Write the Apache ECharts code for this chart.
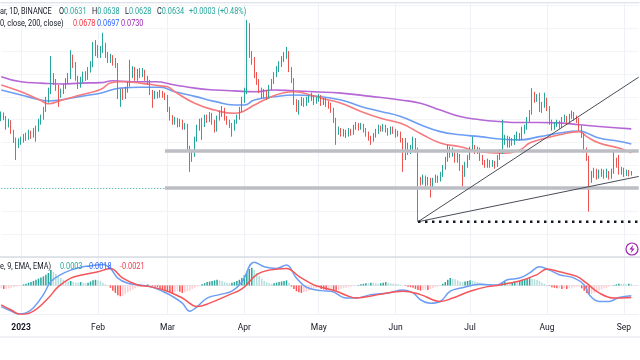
<!DOCTYPE html>
<html><head><meta charset="utf-8">
<script src="https://cdn.jsdelivr.net/npm/echarts@6/dist/echarts.min.js"></script>
<style>html,body{margin:0;padding:0;background:#fff}#c{width:640px;height:360px}</style>
</head><body><div id="c"></div>
<script>
// ---------- DATA ----------
const startYear = 2022, startMonth = 11, startDay = 24; // first category: 2022-12-24
const numSlots = 258;
const firstOpen = 0.0752;
const closes = [
0.0761,0.0754,0.0739,0.0745,0.0724,0.0706,0.0693,0.0702,0.0706,0.0713,
0.0710,0.0721,0.0715,0.0726,0.0728,0.0745,0.0754,0.0772,0.0793,0.0811,
0.0841,0.0833,0.0820,0.0804,0.0811,0.0822,0.0833,0.0844,0.0885,0.0870,
0.0841,0.0826,0.0837,0.0848,0.0841,0.0859,0.0870,0.0898,0.0907,0.0892,
0.0902,0.0913,0.0892,0.0881,0.0885,0.0876,0.0870,0.0804,0.0811,0.0800,
0.0815,0.0826,0.0848,0.0859,0.0841,0.0854,0.0848,0.0854,0.0841,0.0833,
0.0811,0.0800,0.0806,0.0802,0.0809,0.0804,0.0800,0.0772,0.0754,0.0745,
0.0750,0.0739,0.0745,0.0734,0.0737,0.0689,0.0667,0.0673,0.0706,0.0732,
0.0745,0.0739,0.0754,0.0750,0.0761,0.0745,0.0728,0.0754,0.0763,0.0772,
0.0754,0.0745,0.0739,0.0732,0.0745,0.0754,0.0772,0.0793,0.0811,0.0907,
0.0892,0.0881,0.0848,0.0833,0.0815,0.0804,0.0809,0.0800,0.0820,0.0833,
0.0848,0.0859,0.0870,0.0881,0.0889,0.0896,0.0859,0.0837,0.0789,0.0782,
0.0787,0.0793,0.0785,0.0793,0.0798,0.0800,0.0789,0.0793,0.0800,0.0787,
0.0793,0.0785,0.0780,0.0772,0.0750,0.0724,0.0728,0.0719,0.0724,0.0717,
0.0726,0.0721,0.0732,0.0739,0.0732,0.0737,0.0728,0.0719,0.0710,0.0706,
0.0715,0.0724,0.0732,0.0728,0.0734,0.0728,0.0721,0.0730,0.0726,0.0717,
0.0721,0.0706,0.0667,0.0695,0.0680,0.0689,0.0706,0.0684,0.0619,0.0614,
0.0623,0.0612,0.0619,0.0606,0.0617,0.0623,0.0619,0.0630,0.0645,0.0662,
0.0684,0.0673,0.0680,0.0662,0.0671,0.0645,0.0630,0.0651,0.0667,0.0684,
0.0689,0.0680,0.0684,0.0667,0.0658,0.0651,0.0658,0.0651,0.0656,0.0651,
0.0667,0.0680,0.0702,0.0710,0.0695,0.0706,0.0700,0.0710,0.0717,0.0710,
0.0724,0.0732,0.0750,0.0765,0.0804,0.0793,0.0798,0.0772,0.0782,0.0793,
0.0776,0.0745,0.0732,0.0739,0.0743,0.0737,0.0750,0.0754,0.0745,0.0758,
0.0763,0.0754,0.0750,0.0732,0.0717,0.0684,0.0667,0.0619,0.0630,0.0636,
0.0628,0.0632,0.0636,0.0628,0.0634,0.0625,0.0636,0.0662,0.0651,0.0636,
0.0641,0.0632,0.0636,0.0631,0.0634];
const highs = [
0.0768,0.0766,0.0758,0.0752,0.0749,0.0728,0.0711,0.0709,0.0713,0.0719,
0.0722,0.0728,0.0726,0.0732,0.0737,0.0752,0.0761,0.0778,0.0800,0.0820,
0.0889,0.0852,0.0839,0.0826,0.0818,0.0828,0.0841,0.0852,0.0902,0.0892,
0.0876,0.0846,0.0844,0.0855,0.0856,0.0865,0.0878,0.0920,0.0924,0.0913,
0.0911,0.0940,0.0918,0.0898,0.0894,0.0891,0.0885,0.0874,0.0817,0.0818,
0.0822,0.0833,0.0881,0.0867,0.0865,0.0861,0.0863,0.0863,0.0859,0.0846,
0.0837,0.0815,0.0813,0.0811,0.0815,0.0813,0.0809,0.0804,0.0778,0.0760,
0.0756,0.0754,0.0752,0.0750,0.0743,0.0741,0.0693,0.0680,0.0713,0.0739,
0.0752,0.0754,0.0761,0.0761,0.0767,0.0765,0.0750,0.0759,0.0770,0.0780,
0.0776,0.0758,0.0750,0.0743,0.0750,0.0761,0.0778,0.0800,0.0820,0.0968,
0.0961,0.0900,0.0887,0.0854,0.0839,0.0820,0.0817,0.0815,0.0826,0.0839,
0.0854,0.0867,0.0878,0.0889,0.0898,0.0909,0.0900,0.0865,0.0841,0.0795,
0.0793,0.0800,0.0798,0.0800,0.0804,0.0809,0.0804,0.0800,0.0806,0.0804,
0.0798,0.0798,0.0791,0.0787,0.0776,0.0754,0.0735,0.0732,0.0730,0.0728,
0.0732,0.0730,0.0739,0.0745,0.0743,0.0743,0.0741,0.0732,0.0724,0.0715,
0.0721,0.0730,0.0739,0.0737,0.0741,0.0739,0.0732,0.0735,0.0735,0.0730,
0.0726,0.0724,0.0710,0.0710,0.0700,0.0695,0.0713,0.0710,0.0689,0.0625,
0.0630,0.0628,0.0625,0.0623,0.0623,0.0630,0.0628,0.0636,0.0651,0.0669,
0.0695,0.0691,0.0689,0.0684,0.0678,0.0675,0.0651,0.0658,0.0673,0.0691,
0.0713,0.0695,0.0691,0.0689,0.0673,0.0662,0.0665,0.0662,0.0662,0.0660,
0.0673,0.0686,0.0750,0.0717,0.0715,0.0713,0.0710,0.0717,0.0724,0.0721,
0.0735,0.0739,0.0756,0.0771,0.0819,0.0811,0.0806,0.0809,0.0789,0.0809,
0.0798,0.0780,0.0750,0.0745,0.0750,0.0748,0.0756,0.0761,0.0758,0.0763,
0.0770,0.0767,0.0759,0.0754,0.0737,0.0721,0.0689,0.0671,0.0638,0.0645,
0.0643,0.0641,0.0643,0.0641,0.0643,0.0638,0.0643,0.0684,0.0667,0.0673,
0.0647,0.0645,0.0641,0.0640,0.0638];
const lows = [
0.0747,0.0749,0.0728,0.0733,0.0719,0.0699,0.0662,0.0688,0.0695,0.0700,
0.0704,0.0706,0.0708,0.0711,0.0702,0.0724,0.0739,0.0750,0.0767,0.0787,
0.0806,0.0826,0.0813,0.0778,0.0798,0.0806,0.0817,0.0828,0.0839,0.0863,
0.0835,0.0817,0.0820,0.0831,0.0835,0.0837,0.0853,0.0865,0.0889,0.0885,
0.0885,0.0896,0.0885,0.0874,0.0874,0.0868,0.0863,0.0795,0.0778,0.0793,
0.0795,0.0809,0.0822,0.0841,0.0835,0.0835,0.0841,0.0843,0.0835,0.0826,
0.0804,0.0776,0.0795,0.0796,0.0798,0.0798,0.0793,0.0767,0.0748,0.0739,
0.0739,0.0733,0.0734,0.0728,0.0728,0.0684,0.0636,0.0658,0.0669,0.0702,
0.0726,0.0706,0.0734,0.0743,0.0745,0.0739,0.0722,0.0724,0.0748,0.0756,
0.0748,0.0739,0.0732,0.0713,0.0726,0.0741,0.0750,0.0767,0.0787,0.0806,
0.0885,0.0870,0.0841,0.0826,0.0808,0.0796,0.0798,0.0793,0.0796,0.0815,
0.0828,0.0843,0.0854,0.0865,0.0876,0.0883,0.0854,0.0830,0.0782,0.0767,
0.0761,0.0780,0.0778,0.0780,0.0787,0.0791,0.0782,0.0785,0.0789,0.0780,
0.0782,0.0778,0.0774,0.0765,0.0743,0.0695,0.0717,0.0713,0.0713,0.0710,
0.0713,0.0715,0.0717,0.0728,0.0726,0.0728,0.0722,0.0713,0.0704,0.0695,
0.0702,0.0711,0.0719,0.0724,0.0724,0.0722,0.0715,0.0717,0.0719,0.0711,
0.0713,0.0700,0.0636,0.0662,0.0673,0.0675,0.0684,0.0678,0.0527,0.0606,
0.0608,0.0604,0.0606,0.0580,0.0601,0.0612,0.0612,0.0615,0.0625,0.0641,
0.0658,0.0667,0.0669,0.0656,0.0656,0.0638,0.0604,0.0625,0.0645,0.0662,
0.0680,0.0675,0.0675,0.0660,0.0651,0.0645,0.0645,0.0645,0.0647,0.0643,
0.0647,0.0662,0.0675,0.0695,0.0689,0.0689,0.0693,0.0695,0.0704,0.0704,
0.0706,0.0719,0.0728,0.0745,0.0761,0.0787,0.0789,0.0767,0.0765,0.0776,
0.0769,0.0739,0.0726,0.0728,0.0734,0.0730,0.0732,0.0745,0.0739,0.0741,
0.0752,0.0748,0.0743,0.0726,0.0710,0.0678,0.0660,0.0549,0.0612,0.0623,
0.0619,0.0621,0.0625,0.0621,0.0623,0.0619,0.0621,0.0632,0.0645,0.0630,
0.0630,0.0625,0.0627,0.0626,0.0628];
// moving averages, [dayIndex, value]
const ma50Pts = [[0,0.0826],[8,0.0811],[16,0.0792],[19,0.0785],[24,0.0792],[32,0.0804],[40,0.0816],[44,0.0830],[48,0.0833],[56,0.0830],[64,0.0824],[67,0.0822],[70,0.0811],[78,0.0786],[86,0.0771],[94,0.0764],[97,0.0767],[102,0.0782],[108,0.0798],[114,0.0809],[118,0.0811],[126,0.0802],[129,0.0797],[137,0.0786],[145,0.0768],[153,0.0753],[161,0.0742],[169,0.0720],[177,0.0699],[185,0.0691],[193,0.0680],[201,0.0677],[209,0.0684],[213,0.0699],[217,0.0706],[225,0.0717],[233,0.0724],[236,0.0713],[241,0.0699],[249,0.0688],[254,0.0678]];
const ma100Pts = [[0,0.0815],[8,0.0804],[16,0.0793],[19,0.0791],[24,0.0793],[32,0.0801],[40,0.0808],[48,0.0819],[56,0.0821],[64,0.0821],[70,0.0811],[78,0.0801],[86,0.0790],[94,0.0782],[98,0.0782],[102,0.0793],[110,0.0800],[118,0.0804],[126,0.0802],[137,0.0793],[145,0.0779],[153,0.0768],[161,0.0757],[169,0.0739],[177,0.0724],[185,0.0717],[193,0.0713],[201,0.0708],[209,0.0706],[217,0.0713],[225,0.0721],[233,0.0725],[236,0.0721],[241,0.0710],[249,0.0703],[254,0.0697]];
const ma200Pts = [[0,0.0844],[8,0.0833],[16,0.0830],[24,0.0828],[32,0.0830],[40,0.0831],[45,0.0835],[53,0.0833],[62,0.0833],[70,0.0826],[78,0.0819],[86,0.0815],[94,0.0813],[102,0.0811],[110,0.0815],[118,0.0813],[126,0.0811],[137,0.0808],[149,0.0801],[161,0.0793],[169,0.0786],[177,0.0771],[185,0.0757],[193,0.0750],[201,0.0746],[209,0.0744],[217,0.0744],[225,0.0743],[233,0.0739],[241,0.0735],[254,0.0730]];
// MACD
const macdPts = [[0,-0.0037],[4,-0.0045],[7,-0.0050],[10,-0.0048],[13,-0.0039],[17,-0.0016],[20,0.0007],[24,0.0019],[28,0.0027],[33,0.0033],[37,0.0035],[41,0.0037],[44,0.0030],[47,0.0013],[51,0.0004],[56,0.0001],[61,-0.0003],[65,-0.0010],[69,-0.0019],[73,-0.0031],[76,-0.0045],[79,-0.0037],[83,-0.0022],[88,-0.0016],[93,-0.0010],[97,0.0006],[102,0.0041],[106,0.0033],[111,0.0030],[115,0.0036],[119,0.0013],[123,-0.0003],[129,-0.0009],[133,-0.0010],[139,-0.0022],[143,-0.0022],[149,-0.0016],[156,-0.0013],[162,-0.0008],[166,-0.0013],[169,-0.0025],[173,-0.0031],[177,-0.0028],[181,-0.0010],[186,-0.0004],[193,0.0002],[200,0.0001],[204,0.0010],[209,0.0013],[213,0.0022],[217,0.0033],[221,0.0027],[225,0.0019],[231,0.0013],[235,0.0001],[237,-0.0016],[241,-0.0028],[245,-0.0028],[249,-0.0021],[254,-0.0018]];
const signalPts = [[0,-0.0034],[4,-0.0043],[8,-0.0051],[13,-0.0045],[19,-0.0022],[23,-0.0002],[28,0.0013],[33,0.0019],[39,0.0024],[44,0.0030],[49,0.0013],[55,0.0001],[60,-0.0002],[67,-0.0010],[73,-0.0022],[79,-0.0037],[84,-0.0031],[92,-0.0016],[97,-0.0006],[103,0.0019],[108,0.0027],[115,0.0030],[120,0.0016],[126,0.0001],[129,-0.0003],[135,-0.0010],[139,-0.0017],[143,-0.0022],[152,-0.0016],[162,-0.0010],[169,-0.0016],[177,-0.0028],[182,-0.0022],[189,-0.0010],[196,-0.0002],[201,0.0001],[209,0.0008],[216,0.0019],[220,0.0029],[225,0.0024],[232,0.0016],[236,0.0004],[241,-0.0013],[247,-0.0022],[254,-0.0021]];
const hist = [
-0.0005,-0.0006,-0.0006,-0.0005,-0.0004,-0.0003,-0.0002,
-0.0001,0.0000,
0.0002,0.0003,0.0005,0.0006,0.0008,0.0010,0.0012,0.0014,0.0016,0.0019,0.0022,0.0027,
0.0024,0.0020,0.0016,0.0013,0.0010,0.0008,
0.0007,0.0008,0.0006,0.0005,0.0005,0.0006,0.0005,0.0004,0.0005,0.0007,0.0009,
0.0010,0.0009,0.0008,0.0005,0.0002,
0.0000,
-0.0004,-0.0009,-0.0013,-0.0017,-0.0019,-0.0018,-0.0015,-0.0012,-0.0009,-0.0007,
-0.0005,-0.0003,-0.0002,-0.0001,
0.0001,0.0002,0.0001,-0.0001,-0.0002,-0.0003,
-0.0006,-0.0008,-0.0010,-0.0011,-0.0012,-0.0013,-0.0012,-0.0010,-0.0011,-0.0013,-0.0012,-0.0010,-0.0009,-0.0006,
-0.0004,-0.0002,-0.0001,
0.0002,0.0004,0.0006,0.0007,0.0008,0.0009,0.0010,0.0009,0.0008,0.0006,0.0005,0.0004,0.0005,0.0006,0.0008,0.0010,
0.0013,0.0018,0.0024,0.0029,0.0031,
0.0027,0.0022,0.0017,0.0012,0.0008,0.0006,
0.0004,0.0003,0.0004,0.0005,0.0006,0.0007,0.0008,
0.0009,0.0005,
-0.0002,-0.0006,-0.0010,-0.0012,-0.0013,-0.0012,-0.0011,-0.0009,-0.0007,
-0.0005,-0.0004,-0.0004,
-0.0006,-0.0007,-0.0008,-0.0008,-0.0007,-0.0008,-0.0009,-0.0008,-0.0006,-0.0005,-0.0004,-0.0003,-0.0002,
-0.0001,0.0000,0.0001,
0.0002,0.0003,0.0004,0.0004,0.0005,0.0005,0.0004,0.0003,0.0004,0.0005,0.0006,0.0005,0.0004,0.0003,0.0003,0.0002,0.0001,0.0000,
-0.0001,-0.0002,-0.0003,-0.0004,
-0.0006,-0.0008,-0.0009,-0.0008,-0.0007,-0.0008,-0.0006,-0.0005,
-0.0003,-0.0002,-0.0001,
0.0003,0.0006,0.0010,0.0013,0.0012,0.0011,0.0009,0.0007,
0.0006,0.0007,0.0008,0.0009,0.0008,0.0007,0.0006,0.0005,0.0004,
0.0003,0.0002,0.0001,0.0001,0.0000,0.0001,0.0003,
0.0006,0.0007,0.0006,0.0005,0.0006,0.0007,0.0006,0.0008,0.0010,0.0011,0.0012,0.0013,0.0012,0.0011,0.0010,0.0008,
0.0005,0.0003,0.0001,-0.0001,
-0.0003,-0.0004,-0.0005,-0.0005,-0.0006,-0.0005,-0.0006,-0.0005,-0.0004,
-0.0003,-0.0002,-0.0002,-0.0005,-0.0009,
-0.0013,-0.0016,-0.0015,
-0.0013,-0.0011,-0.0009,-0.0007,-0.0005,-0.0004,-0.0002,-0.0001,
0.0001,0.0002,0.0003,0.0003,0.0003,0.0002,0.0003,0.0003];
// drawings (price levels, day indices)
const currentPrice = 0.0634;
const bandUpper = 0.0683, bandLower = 0.0602, bandStartIdx = 66;
const junLowIdx = 168, junLow = 0.0527;
const trendEndIdx = 257, trendSteepEnd = 0.0843, trendFlatEnd = 0.0626;
const monthLabels = {'2023-01-01':'2023','2023-02-01':'Feb','2023-03-01':'Mar','2023-04-01':'Apr','2023-05-01':'May','2023-06-01':'Jun','2023-07-01':'Jul','2023-08-01':'Aug','2023-09-01':'Sep'};
const headerOHLC = {o:'0.0631', h:'0.0638', l:'0.0628', c:'0.0634', chg:'+0.0003', pct:'(+0.48%)'};
const maLegend = ['0.0678','0.0697','0.0730'];
const macdLegend = ['0.0003','-0.0018','-0.0021'];

// ---------- BUILD ----------
const dates = [];
for (let i = 0; i < numSlots; i++) {
  const d = new Date(Date.UTC(startYear, startMonth, startDay + i));
  dates.push(d.toISOString().slice(0, 10));
}
const candles = closes.map((c, i) => [i === 0 ? firstOpen : closes[i - 1], c, lows[i], highs[i]]);
const toPairs = pts => pts.map(p => [dates[p[0]], p[1]]);
const histData = hist.map((v, i) => {
  const p = i > 0 ? hist[i - 1] : v;
  let col;
  if (v >= 0) col = v > p ? '#26a69a' : '#b2dfdb';
  else col = v < p ? '#ff5252' : '#ffcdd2';
  return { value: [dates[i], v], itemStyle: { color: col } };
});
const UP = '#26a69a', DOWN = '#ef5350';
const FONT = 'Roboto, "Liberation Sans", sans-serif';
const FS = '8.5px ';
const SX = 0.86;
const isMonth = (idx, val) => Object.prototype.hasOwnProperty.call(monthLabels, val);

const chart = echarts.init(document.getElementById('c'), null, { renderer: 'canvas' });
const txt = (x, y, text, fill, extra) => Object.assign({ type: 'text', x: x, y: y, scaleX: SX, z: 100,
  style: Object.assign({ text: text, fill: fill, font: FS + FONT, verticalAlign: 'middle' }, extra || {}) });
const kv = (x, k, v) => txt(x, 12, '{k|' + k + '}{v|' + v + '}', '#131722',
  { rich: { k: { fill: '#131722', font: FS + FONT }, v: { fill: UP, font: FS + FONT } } });

chart.setOption({
  animation: false,
  backgroundColor: '#ffffff',
  grid: [
    { left: 1.24, right: 1.26, top: 3, bottom: 103 },
    { left: 1.24, right: 1.26, top: 257, bottom: 46 }
  ],
  xAxis: [
    { type: 'category', gridIndex: 0, data: dates, boundaryGap: false,
      axisLine: { show: false }, axisTick: { show: false }, axisLabel: { show: false },
      splitLine: { show: true, interval: isMonth, lineStyle: { color: '#eef1f6', width: 1 } } },
    { type: 'category', gridIndex: 1, data: dates, boundaryGap: false,
      axisLine: { show: true, lineStyle: { color: '#e6e8ee' } }, axisTick: { show: false },
      axisLabel: { show: true, interval: isMonth, margin: 9, color: '#131722', fontSize: 8.5, fontFamily: FONT,
        formatter: v => v === '2023-01-01' ? '{b|2023}' : (monthLabels[v] || ''),
        rich: { b: { fontWeight: 'bold', fontSize: 8.5, fontFamily: FONT, color: '#131722' } } },
      splitLine: { show: true, interval: isMonth, lineStyle: { color: '#eef1f6', width: 1 } } }
  ],
  yAxis: [
    { type: 'value', gridIndex: 0, min: 0.045, max: 0.1005, interval: 0.005, scale: true,
      axisLine: { show: false }, axisTick: { show: false }, axisLabel: { show: false },
      splitLine: { lineStyle: { color: '#f2f4f8' } } },
    { type: 'value', gridIndex: 1, min: -0.005, max: 0.005, interval: 0.005,
      axisLine: { show: false }, axisTick: { show: false }, axisLabel: { show: false },
      splitLine: { lineStyle: { color: '#eef1f6' } } }
  ],
  series: [
    { type: 'line', name: 'MA200', xAxisIndex: 0, yAxisIndex: 0, data: toPairs(ma200Pts), smooth: true,
      symbol: 'none', lineStyle: { color: '#b667d6', width: 1.6 }, z: 2 },
    { type: 'line', name: 'MA100', xAxisIndex: 0, yAxisIndex: 0, data: toPairs(ma100Pts), smooth: true,
      symbol: 'none', lineStyle: { color: '#6d9ef4', width: 1.6 }, z: 2 },
    { type: 'line', name: 'MA50', xAxisIndex: 0, yAxisIndex: 0, data: toPairs(ma50Pts), smooth: true,
      symbol: 'none', lineStyle: { color: '#f57b7f', width: 1.6 }, z: 2 },
    { type: 'candlestick', xAxisIndex: 0, yAxisIndex: 0, data: candles, barWidth: 1.3, z: 3,
      itemStyle: { color: UP, color0: DOWN, borderColor: UP, borderColor0: DOWN, borderWidth: 1 },
      markLine: { silent: true, symbol: 'none', animation: false, label: { show: false },
        data: [
          { yAxis: currentPrice, lineStyle: { color: UP, type: [1, 2], width: 1, opacity: 0.9 } },
          [ { coord: [dates[bandStartIdx], bandUpper] }, { coord: [dates[numSlots - 1], bandUpper] } ],
          [ { coord: [dates[bandStartIdx], bandLower] }, { coord: [dates[numSlots - 1], bandLower] } ]
        ],
        lineStyle: { color: '#bcbec4', width: 3.5, type: 'solid' } } },
    { type: 'line', xAxisIndex: 0, yAxisIndex: 0, symbol: 'none', z: 5,
      data: [[dates[junLowIdx], junLow], [dates[trendEndIdx], trendSteepEnd]],
      lineStyle: { color: '#4a4d57', width: 1 } },
    { type: 'line', xAxisIndex: 0, yAxisIndex: 0, symbol: 'none', z: 5,
      data: [[dates[junLowIdx], junLow], [dates[trendEndIdx], trendFlatEnd]],
      lineStyle: { color: '#4a4d57', width: 1 } },
    { type: 'line', xAxisIndex: 0, yAxisIndex: 0, symbol: 'none', z: 5,
      data: [[dates[junLowIdx], junLow], [dates[trendEndIdx], junLow]],
      lineStyle: { color: '#131722', width: 2.5, type: [2.5, 4.5] } },
    { type: 'bar', xAxisIndex: 1, yAxisIndex: 1, data: histData, barWidth: 1.5, z: 2 },
    { type: 'line', xAxisIndex: 1, yAxisIndex: 1, data: toPairs(macdPts), smooth: 0.4, symbol: 'none',
      lineStyle: { color: '#6d9ef4', width: 1.5 }, z: 3 },
    { type: 'line', xAxisIndex: 1, yAxisIndex: 1, data: toPairs(signalPts), smooth: 0.4, symbol: 'none',
      lineStyle: { color: '#f5555a', width: 1.5 }, z: 3 }
  ],
  graphic: [
    { type: 'line', shape: { x1: 0, y1: 2.5, x2: 640, y2: 2.5 }, style: { stroke: '#e0e3eb', lineWidth: 1 }, z: 50 },
    { type: 'line', shape: { x1: 0, y1: 257, x2: 640, y2: 257 }, style: { stroke: '#d9dce3', lineWidth: 1.5 }, z: 50 },
    { type: 'line', shape: { x1: 0, y1: 337, x2: 640, y2: 337 }, style: { stroke: '#e0e3eb', lineWidth: 1 }, z: 50 },
    txt(0, 12, 'ar, 1D, BINANCE', '#131722'),
    kv(59, 'O', headerOHLC.o),
    kv(92, 'H', headerOHLC.h),
    kv(125, 'L', headerOHLC.l),
    kv(157, 'C', headerOHLC.c),
    txt(189, 12, headerOHLC.chg + ' ' + headerOHLC.pct, UP),
    txt(0, 24, '0, close, 200, close)', '#131722'),
    txt(73, 24, maLegend[0], '#f23645'),
    txt(97, 24, maLegend[1], '#2962ff'),
    txt(121, 24, maLegend[2], '#9c27b0'),
    txt(0, 267, 'e, 9, EMA, EMA)', '#131722'),
    txt(60, 267, macdLegend[0], UP),
    txt(87, 267, macdLegend[1], '#2962ff'),
    txt(120, 267, macdLegend[2], '#f23645'),
    { type: 'group', x: 632, y: 249, z: 100, children: [
      { type: 'circle', shape: { cx: 0, cy: 0, r: 6 }, style: { fill: '#ffffff', stroke: '#9c27b0', lineWidth: 1.2 } },
      { type: 'polygon', shape: { points: [[1.2, -4.2], [-2.6, 0.6], [-0.2, 0.6], [-1.2, 4.2], [2.6, -0.6], [0.2, -0.6]] }, style: { fill: '#9c27b0' } }
    ] }
  ]
});
</script>
</body></html>
